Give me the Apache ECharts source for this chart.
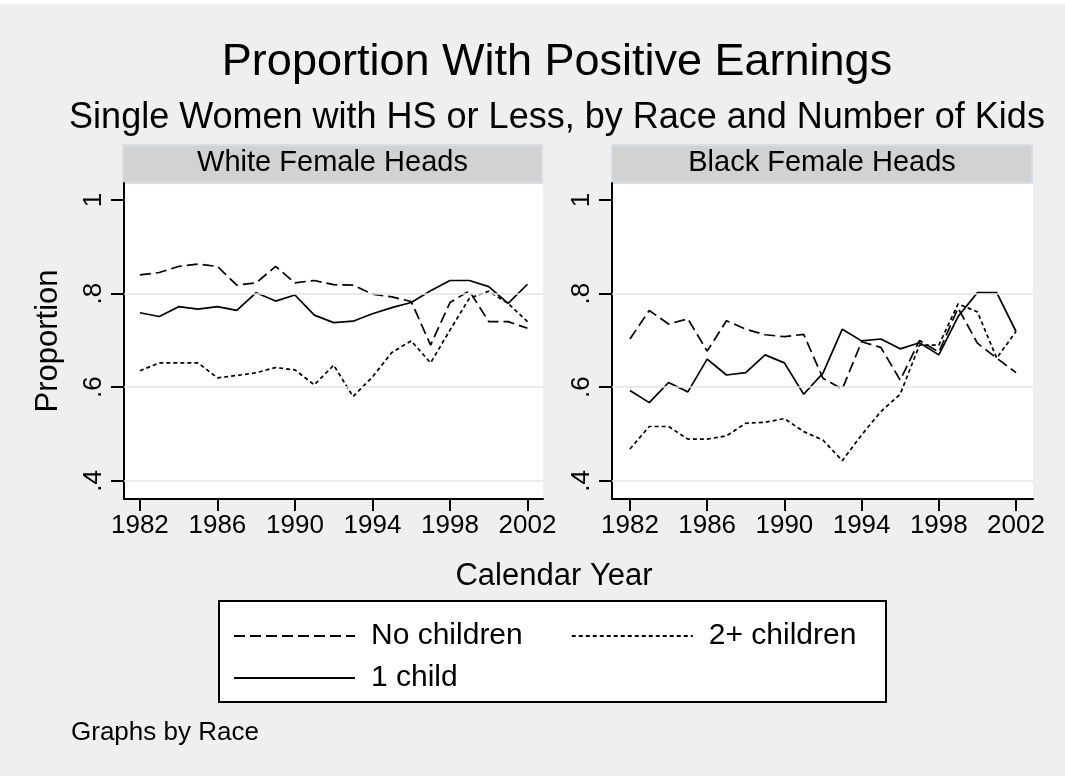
<!DOCTYPE html>
<html>
<head>
<meta charset="utf-8">
<script src="https://cdn.jsdelivr.net/npm/echarts@6/dist/echarts.min.js"></script>
<style>
html,body{margin:0;padding:0;background:#efefef;}
#c{width:1065px;height:776px;}
</style>
</head>
<body>
<div id="c"></div>
<script>
// ---- data ----
const years = [1982,1983,1984,1985,1986,1987,1988,1989,1990,1991,1992,1993,1994,1995,1996,1997,1998,1999,2000,2001,2002];
const xTicks = [1982,1986,1990,1994,1998,2002];
const yTicks = [0.4,0.6,0.8,1];
const yTickLabels = ['.4','.6','.8','1'];
const gridValues = [0.4,0.6,0.8];
const panelTitles = ['White Female Heads','Black Female Heads'];
const seriesNames = ['No children','2+ children','1 child'];
const legendRow1 = ['No children','2+ children'];
const legendRow2 = ['1 child'];

const whiteNoChildren = [0.840,0.845,0.858,0.863,0.858,0.818,0.823,0.858,0.823,0.828,0.819,0.818,0.799,0.793,0.783,0.690,0.781,0.806,0.740,0.740,0.726];
const whiteTwoPlus    = [0.635,0.652,0.652,0.652,0.620,0.625,0.631,0.642,0.637,0.605,0.647,0.580,0.622,0.674,0.699,0.652,0.722,0.790,0.805,0.779,0.740];
const whiteOneChild   = [0.759,0.751,0.772,0.767,0.772,0.764,0.802,0.784,0.797,0.754,0.738,0.741,0.757,0.770,0.781,0.806,0.828,0.828,0.815,0.779,0.820];

const blackNoChildren = [0.703,0.764,0.735,0.746,0.677,0.742,0.724,0.712,0.708,0.713,0.619,0.596,0.697,0.685,0.615,0.700,0.675,0.769,0.694,0.662,0.631];
const blackTwoPlus    = [0.468,0.516,0.516,0.489,0.489,0.496,0.523,0.525,0.533,0.505,0.487,0.443,0.498,0.548,0.585,0.690,0.690,0.778,0.761,0.662,0.719];
const blackOneChild   = [0.593,0.567,0.610,0.590,0.660,0.626,0.631,0.669,0.652,0.585,0.630,0.724,0.699,0.703,0.682,0.695,0.669,0.751,0.802,0.802,0.719];

const panelData = [
  [whiteNoChildren, whiteTwoPlus, whiteOneChild],
  [blackNoChildren, blackTwoPlus, blackOneChild]
];

// ---- styles / layout ----
const FONT = 'Liberation Sans, Arial, sans-serif';
const dashes = [[11,5],[4,3],'solid'];
const grids = [
  {left:124, top:183, width:419, height:316},
  {left:612, top:183, width:421, height:316}
];
const xRanges = [[1981.18, 2002.8],[1981.07, 2002.88]];
const yRange = [0.3611, 1.0363];

const chart = echarts.init(document.getElementById('c'), null, {renderer:'canvas'});

const xAxis = grids.map((g,i)=>({
  type:'value', gridIndex:i, min:xRanges[i][0], max:xRanges[i][1],
  axisLine:{show:true, onZero:false, lineStyle:{color:'#000', width:2}},
  axisTick:{show:true, customValues:xTicks, length:12, lineStyle:{color:'#000', width:2}},
  axisLabel:{customValues:xTicks, fontSize:26, color:'#000', fontFamily:FONT, margin:14,
             formatter:(v)=>String(Math.round(v))},
  splitLine:{show:false}
}));

const yAxis = grids.map((g,i)=>({
  type:'value', gridIndex:i, min:yRange[0], max:yRange[1],
  name: i===0 ? 'Proportion' : '',
  nameLocation:'middle', nameGap:60,
  nameTextStyle:{fontSize:31, color:'#000', fontFamily:FONT},
  axisLine:{show:true, onZero:false, lineStyle:{color:'#000', width:2}},
  axisTick:{show:true, customValues:yTicks, length:13, lineStyle:{color:'#000', width:2}},
  axisLabel:{customValues:yTicks, rotate:90, fontSize:26, color:'#000', fontFamily:FONT, margin:17,
    formatter:(v)=>{
      const k = yTicks.findIndex(t=>Math.abs(t-v)<1e-6);
      return k>=0 ? yTickLabels[k] : String(v);
    }},
  splitLine:{show:false}
}));

const series = [];
grids.forEach((g,i)=>{
  series.push({
    type:'line', name:'grid'+i, xAxisIndex:i, yAxisIndex:i, data:[], silent:true, z:1,
    markLine:{silent:true, symbol:'none', animation:false, label:{show:false},
      lineStyle:{color:'#e3e3e3', width:1.5, type:'solid'},
      data: gridValues.map(v=>({yAxis:v}))}
  });
  seriesNames.forEach((name,k)=>{
    series.push({
      type:'line', name:name, xAxisIndex:i, yAxisIndex:i, z:3,
      data: years.map((y,j)=>[y, panelData[i][k][j]]),
      symbol:'none', showSymbol:false,
      lineStyle:{color:'#000', width:1.7, type:dashes[k]},
      itemStyle:{color:'#000'},
      emphasis:{disabled:true}
    });
  });
});

const legendCommon = {
  left:233, orient:'horizontal', itemWidth:121, itemHeight:14, itemGap:48, padding:0,
  itemStyle:{opacity:0},
  textStyle:{fontSize:30, color:'#000', fontFamily:FONT, padding:[0,0,0,11]},
  selectedMode:false
};

const option = {
  animation:false,
  backgroundColor:'#efefef',
  title:[
    {text:'Proportion With Positive Earnings', left:552, top:35, textAlign:'center',
     textStyle:{fontSize:45, fontWeight:'normal', color:'#000', fontFamily:FONT}},
    {text:'Single Women with HS or Less, by Race and Number of Kids', left:552, top:95, textAlign:'center',
     textStyle:{fontSize:36, fontWeight:'normal', color:'#000', fontFamily:FONT}}
  ],
  grid: grids.map(g=>Object.assign({show:true, backgroundColor:'#ffffff', borderWidth:0}, g)),
  xAxis, yAxis, series,
  legend:[
    Object.assign({top:621, data:legendRow1}, legendCommon),
    Object.assign({top:663, data:legendRow2}, legendCommon)
  ],
  graphic:[
    {type:'rect', left:0, top:0, shape:{width:1065, height:4}, style:{fill:'#ffffff'}, silent:true},
    {type:'rect', shape:{x:123, y:145, width:419, height:38}, style:{fill:'#d2d2d2', stroke:'#d8dde7', lineWidth:2}, silent:true},
    {type:'rect', shape:{x:612, y:145, width:420, height:38}, style:{fill:'#d2d2d2', stroke:'#d8dde7', lineWidth:2}, silent:true},
    {type:'text', x:332.5, y:163, style:{text:panelTitles[0], fontSize:29, fill:'#000', fontFamily:FONT, align:'center', verticalAlign:'middle'}},
    {type:'text', x:822, y:163, style:{text:panelTitles[1], fontSize:29, fill:'#000', fontFamily:FONT, align:'center', verticalAlign:'middle'}},
    {type:'text', x:554, y:576, style:{text:'Calendar Year', fontSize:31, fill:'#000', fontFamily:FONT, align:'center', verticalAlign:'middle'}},
    {type:'rect', z:-1, shape:{x:219, y:601, width:667, height:101}, style:{fill:'#ffffff', stroke:'#000', lineWidth:2}, silent:true},
    {type:'text', x:71, y:733, style:{text:'Graphs by Race', fontSize:26, fill:'#000', fontFamily:FONT, align:'left', verticalAlign:'middle'}}
  ]
};
chart.setOption(option);
</script>
</body>
</html>
